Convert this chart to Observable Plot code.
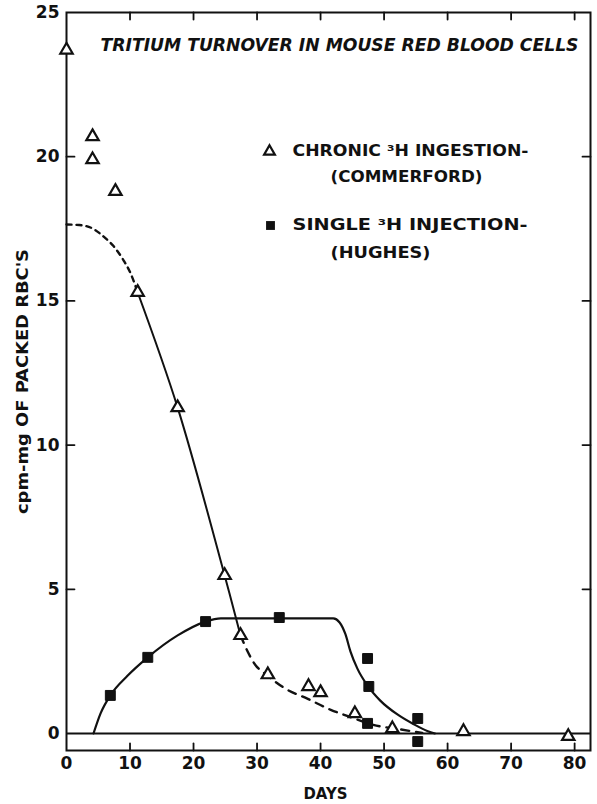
<!DOCTYPE html>
<html><head><meta charset="utf-8">
<script src="https://cdn.jsdelivr.net/npm/d3@7"></script>
<script src="https://cdn.jsdelivr.net/npm/@observablehq/plot@0.6"></script>
<style>body{margin:0;background:#fff}</style>
</head><body><div id="chart"></div>
<script>
// ---- data ----
const xTicks = [0, 10, 20, 30, 40, 50, 60, 70, 80];
const yTicks = [0, 5, 10, 15, 20, 25];
const innerXTicks = [10, 20, 30, 40, 50, 60, 70, 80];
const innerYTicks = [5, 10, 15, 20];

// Chronic 3H ingestion (Commerford) – open triangles
const chronicDays   = [0, 4.1, 4.1, 7.7, 11.2, 17.5, 24.9, 27.4, 31.7, 38.1, 40.0, 45.4, 51.3, 62.5, 79.0];
const chronicValues = [23.7, 20.7, 19.9, 18.8, 15.3, 11.3, 5.48, 3.4, 2.04, 1.63, 1.42, 0.69, 0.17, 0.07, -0.1];

// Single 3H injection (Hughes) – filled squares
const singleDays   = [6.9, 12.8, 21.9, 33.5, 47.4, 47.6, 47.4, 55.3, 55.3];
const singleValues = [1.32, 2.64, 3.88, 4.02, 2.6, 1.63, 0.35, 0.52, -0.28];

// Fitted curves
const chronicDashHeadDays   = [0, 2.0, 4.2, 6.0, 7.4, 9.0, 10.1, 11.2];
const chronicDashHeadValues = [17.65, 17.63, 17.5, 17.2, 16.9, 16.4, 15.95, 15.3];
const chronicSolidDays   = [11.2, 17.5, 24.9, 27.4];
const chronicSolidValues = [15.3, 11.3, 5.48, 3.4];
const chronicDashTailDays   = [27.4, 28.5, 29.5, 31.7, 34.5, 38.0, 41.6, 44.3, 48.3, 52.6, 56.0];
const chronicDashTailValues = [3.4, 2.85, 2.45, 2.0, 1.55, 1.2, 0.82, 0.6, 0.3, 0.14, 0.02];
const singleCurveDays   = [4.25, 5.35, 6.9, 9.6, 12.8, 17.5, 21.9, 24.3, 42.0, 43.0, 43.9, 44.7, 45.8, 47.4, 49.4, 52.1, 54.6, 56.9, 58.0];
const singleCurveValues = [0, 0.69, 1.32, 2.0, 2.64, 3.4, 3.88, 3.99, 3.99, 3.85, 3.45, 2.85, 2.25, 1.66, 1.14, 0.66, 0.33, 0.08, 0];

const titleText = "TRITIUM TURNOVER IN MOUSE RED BLOOD CELLS";
const legendLines = ["CHRONIC ³H INGESTION-", "(COMMERFORD)", "SINGLE ³H INJECTION-", "(HUGHES)"];
const xLabel = "DAYS";
const yLabel = "cpm-mg OF PACKED RBC'S";

// ---- build ----
const pts = (xs, ys) => xs.map((x, i) => ({x, y: ys[i]}));
const tickShape = {draw(context, l) { context.moveTo(0, 0); context.lineTo(0, -l); }};
const ink = "#111";

const chart = Plot.plot({
  width: 597, height: 804,
  marginLeft: 66, marginRight: 7, marginTop: 12, marginBottom: 54,
  style: {fontFamily: "'DejaVu Sans', sans-serif", fontWeight: "bold", color: ink, background: "#fff"},
  x: {domain: [0, 82.5]},
  y: {domain: [-0.59, 25]},
  marks: [
    Plot.frame({stroke: ink, strokeWidth: 2}),
    Plot.ruleY([0], {stroke: ink, strokeWidth: 2}),
    // inward ticks on all four sides
    Plot.vector(innerXTicks, {x: d => d, frameAnchor: "bottom", rotate: 0, length: 7, anchor: "start", shape: tickShape, stroke: ink, strokeWidth: 1.8}),
    Plot.vector(innerXTicks, {x: d => d, frameAnchor: "top", rotate: 180, length: 7, anchor: "start", shape: tickShape, stroke: ink, strokeWidth: 1.8}),
    Plot.vector(innerYTicks, {y: d => d, frameAnchor: "left", rotate: 90, length: 8, anchor: "start", shape: tickShape, stroke: ink, strokeWidth: 1.8}),
    Plot.vector(innerYTicks, {y: d => d, frameAnchor: "right", rotate: -90, length: 8, anchor: "start", shape: tickShape, stroke: ink, strokeWidth: 1.8}),
    Plot.axisX({ticks: xTicks, tickSize: 0, tickPadding: 6, fontSize: 17, label: null}),
    Plot.axisY({ticks: yTicks, tickSize: 0, tickPadding: 7, fontSize: 17, label: null}),
    // curves
    Plot.line(pts(chronicDashHeadDays, chronicDashHeadValues), {x: "x", y: "y", curve: "monotone-x", stroke: ink, strokeWidth: 2.4, strokeDasharray: "5,5"}),
    Plot.line(pts(chronicSolidDays, chronicSolidValues), {x: "x", y: "y", curve: "catmull-rom", stroke: ink, strokeWidth: 2}),
    Plot.line(pts(chronicDashTailDays, chronicDashTailValues), {x: "x", y: "y", curve: "monotone-x", stroke: ink, strokeWidth: 2.4, strokeDasharray: "8,7"}),
    Plot.line(pts(singleCurveDays, singleCurveValues), {x: "x", y: "y", curve: "monotone-x", stroke: ink, strokeWidth: 2.2}),
    // points
    Plot.dot(pts(singleDays, singleValues), {x: "x", y: "y", symbol: "square", r: 5.6, fill: ink, stroke: ink, strokeWidth: 1}),
    Plot.dot(pts(chronicDays, chronicValues), {x: "x", y: "y", symbol: "triangle", r: 4.6, fill: "#fff", stroke: ink, strokeWidth: 2.2}),
    // title
    Plot.text([titleText], {frameAnchor: "top", dx: 11, dy: 33, fontSize: 17, fontStyle: "italic", fontWeight: "bold", textAnchor: "middle", lineAnchor: "middle", fill: ink}),
    // legend
    Plot.dot([0], {x: null, y: null, frameAnchor: "top-left", dx: 203, dy: 139, symbol: "triangle", r: 4, fill: "#fff", stroke: ink, strokeWidth: 2.2}),
    Plot.dot([0], {x: null, y: null, frameAnchor: "top-left", dx: 204, dy: 213, symbol: "square", r: 5, fill: ink}),
    Plot.text([legendLines[0]], {frameAnchor: "top-left", dx: 226, dy: 139, fontSize: 15, textAnchor: "start", lineAnchor: "middle", fill: ink}),
    Plot.text([legendLines[1]], {frameAnchor: "top-left", dx: 264, dy: 165, fontSize: 15, textAnchor: "start", lineAnchor: "middle", fill: ink}),
    Plot.text([legendLines[2]], {frameAnchor: "top-left", dx: 226, dy: 213, fontSize: 15, textAnchor: "start", lineAnchor: "middle", fill: ink}),
    Plot.text([legendLines[3]], {frameAnchor: "top-left", dx: 264, dy: 241, fontSize: 15, textAnchor: "start", lineAnchor: "middle", fill: ink}),
    // axis titles
    Plot.text([xLabel], {frameAnchor: "bottom", dx: -3, dy: 43, fontSize: 16, textAnchor: "middle", lineAnchor: "middle", fill: ink}),
    Plot.text([yLabel], {frameAnchor: "left", dx: -44, dy: 0, rotate: -90, fontSize: 16, textAnchor: "middle", lineAnchor: "middle", fill: ink})
  ]
});
document.getElementById("chart").appendChild(chart);

// fit lettering widths to the reference
const fitWidths = new Map([
  [titleText, 478], [legendLines[0], 236], [legendLines[1], 152],
  [legendLines[2], 235], [legendLines[3], 100], [yLabel, 265], [xLabel, 44]
]);
d3.select(chart).selectAll("text").each(function() {
  const w = fitWidths.get(this.textContent);
  if (w) { this.setAttribute("textLength", w); this.setAttribute("lengthAdjust", "spacingAndGlyphs"); }
});
</script>
</body></html>
